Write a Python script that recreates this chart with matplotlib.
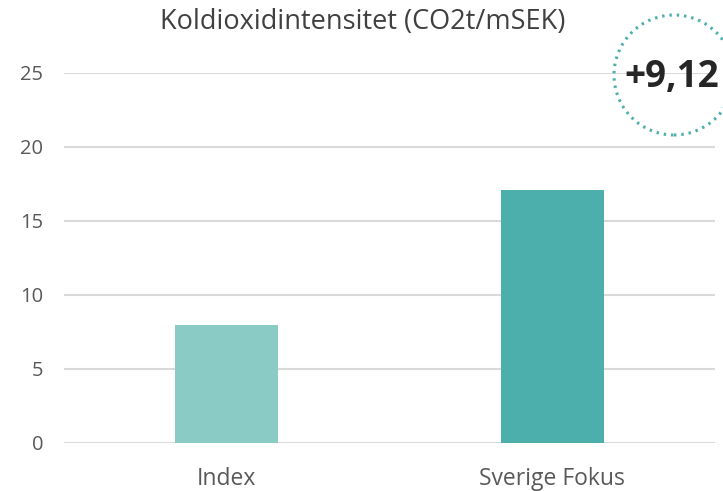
import matplotlib.pyplot as plt
from matplotlib.patches import Ellipse

categories = ['Index', 'Sverige Fokus']
values = [7.97, 17.09]
bar_colors = ['#8ACBC6', '#4DAFAC']
yticks = [0, 5, 10, 15, 20, 25]
title = 'Koldioxidintensitet (CO2t/mSEK)'
badge = '+9,12'

plt.rcParams['font.family'] = ['Open Sans', 'DejaVu Sans']

fig = plt.figure(figsize=(7.23, 4.91), dpi=100)
ax = fig.add_axes([64/723, 1-443/491, (715-64)/723, (443-73)/491])

x = range(len(categories))
ax.bar(x, values, width=0.316, color=bar_colors, zorder=3)

ax.set_xlim(-0.5, 1.5)
ax.set_ylim(0, 25)
ax.set_yticks(yticks)
ax.set_xticks(list(x), categories)
ax.grid(axis='y', color='#D9D9D9', lw=1.5, zorder=0)
for s in ax.spines.values():
    s.set_visible(False)
ax.tick_params(axis='both', length=0, labelcolor='#595959')
ax.tick_params(axis='y', pad=15, labelsize=14.5)
ax.tick_params(axis='x', pad=17, labelsize=16.5)

fig.text(363/723, 1-22/491, title, ha='center', va='center', fontsize=19.5, color='#404040')

circ = Ellipse((674/723, 1-75/491), 120/723, 120/491, transform=fig.transFigure,
               fill=False, edgecolor='#4DAFAC', lw=2.2, linestyle=(0, (0.8, 1.6)))
fig.add_artist(circ)
fig.text(672/723, 1-77/491, badge, ha='center', va='center', fontsize=26.5,
         fontweight='bold', color='#262626')

fig.savefig('out.png', dpi=100)
